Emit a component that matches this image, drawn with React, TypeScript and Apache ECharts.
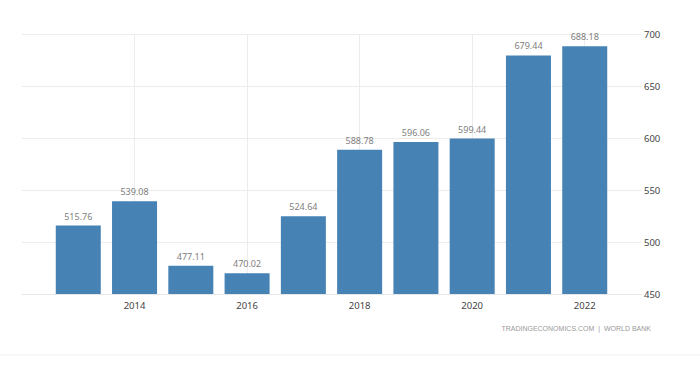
import React, { useEffect, useRef } from "react";
import * as echarts from "echarts";

const years = [2013, 2014, 2015, 2016, 2017, 2018, 2019, 2020, 2021, 2022];
const values = [515.76, 539.08, 477.11, 470.02, 524.64, 588.78, 596.06, 599.44, 679.44, 688.18];
const sourceText = "TRADINGECONOMICS.COM  |  WORLD BANK";

export default function App() {
  const ref = useRef<HTMLDivElement>(null);
  useEffect(() => {
    document.body.style.margin = "0";
    const chart = echarts.init(ref.current!, null, { renderer: "svg" });
    chart.setOption({
      animation: false,
      backgroundColor: "#ffffff",
      grid: { left: 22, right: 59, top: 34, bottom: 80 },
      xAxis: {
        type: "value",
        min: 2012,
        max: 2023,
        interval: 2,
        axisLine: { show: true, lineStyle: { color: "#e6e6e6" } },
        axisTick: { show: false },
        splitLine: { show: true, showMinLine: false, showMaxLine: false, lineStyle: { color: "#ececec" } },
        axisLabel: {
          showMinLabel: false,
          showMaxLabel: false,
          color: "#444",
          fontSize: 9.5,
          fontFamily: "Noto Sans",
          margin: 6,
          formatter: (v: number) => String(v),
        },
      },
      yAxis: {
        type: "value",
        position: "right",
        min: 450,
        max: 700,
        interval: 50,
        axisLine: { show: false },
        axisTick: { show: false },
        splitLine: { show: true, lineStyle: { color: "#ececec" } },
        axisLabel: { color: "#444", fontSize: 9.5, fontFamily: "Noto Sans", margin: 3 },
      },
      series: [
        {
          type: "bar",
          data: years.map((y, i) => [y, values[i]]),
          barWidth: 45,
          itemStyle: { color: "#4682b4" },
          label: {
            show: true,
            position: "top",
            distance: 5,
            color: "#808080",
            fontSize: 9,
            fontFamily: "Noto Sans",
            formatter: (p: any) => p.value[1].toFixed(2),
          },
        },
      ],
      graphic: [
        {
          type: "text",
          right: 49,
          top: 325,
          style: { text: sourceText, fill: "#9a9a9a", fontSize: 7, fontFamily: "Liberation Sans" },
        },
        {
          type: "line",
          shape: { x1: 0, y1: 355, x2: 700, y2: 355 },
          style: { stroke: "#f0f0f0", lineWidth: 1 },
        },
      ],
    });
    return () => chart.dispose();
  }, []);
  return <div ref={ref} style={{ width: 700, height: 374 }} />;
}
